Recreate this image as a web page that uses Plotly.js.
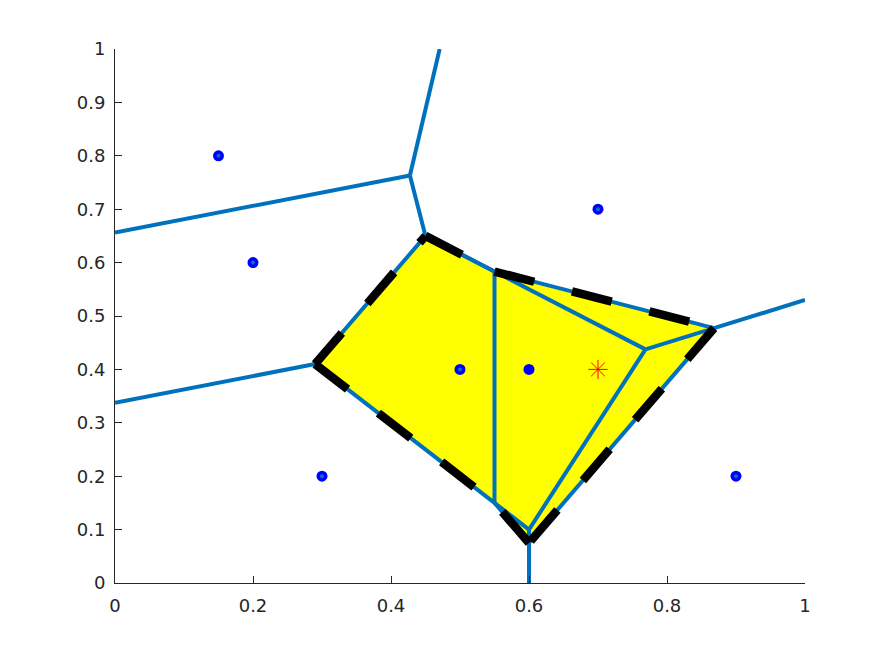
<!DOCTYPE html>
<html>
<head>
<meta charset="utf-8">
<script src="https://cdn.plot.ly/plotly-3.0.1.min.js"></script>
<style>html,body{margin:0;padding:0;background:#fff;}#chart{width:891px;height:656px;}</style>
</head>
<body>
<div id="chart"></div>
<script>
// Sites (blue points)
const siteX = [0.15, 0.2, 0.7, 0.5, 0.6, 0.3, 0.9];
const siteY = [0.8, 0.6, 0.7, 0.4, 0.4, 0.2, 0.2];
// Sites of the second diagram (without the site at 0.6,0.4)
const site2X = [0.15, 0.2, 0.7, 0.5, 0.3, 0.9];
const site2Y = [0.8, 0.6, 0.7, 0.4, 0.2, 0.2];
// Query point (red asterisk)
const queryX = [0.7];
const queryY = [0.4];
// Voronoi vertices, including where rays leave the box
const vertX = [0.4274, 0.45, 0.55, 0.8682, 0.6, 0.55, 0.29, 0.7688, 0.6, 0.4705, 0, 1, 0.6, 0];
const vertY = [0.7631, 0.65, 0.5833, 0.4773, 0.075, 0.15, 0.41, 0.4375, 0.1, 1, 0.65625, 0.53, 0, 0.3375];
// Edges of the 7-site diagram (vertex index pairs)
const edges1 = [[0,9],[0,10],[0,1],[1,6],[6,13],[1,2],[2,5],[2,3],[3,11],[3,4],[5,4],[4,12],[6,5]];
// Edges of the 6-site diagram
const edges2 = [[1,2],[2,7],[7,3],[7,8],[5,8],[8,12]];
// Dashed boundary edges (each drawn from its first vertex)
const dashEdges = [[1,2],[2,3],[3,4],[4,5],[6,5],[6,1]];
// Filled region
const fillPoly = [1,2,3,4,5,6];

const blue = '#0072BD';
const traces = [];
traces.push({
  x: fillPoly.map(i => vertX[i]), y: fillPoly.map(i => vertY[i]),
  type: 'scatter', mode: 'lines', fill: 'toself', fillcolor: '#FFFF00',
  line: {width: 0, color: '#FFFF00'}, hoverinfo: 'skip', showlegend: false
});
function edgeTrace(list) {
  const xs = [], ys = [];
  list.forEach(e => { xs.push(vertX[e[0]], vertX[e[1]], null); ys.push(vertY[e[0]], vertY[e[1]], null); });
  return {x: xs, y: ys, type: 'scatter', mode: 'lines', line: {color: blue, width: 4}, showlegend: false, hoverinfo: 'skip'};
}
traces.push(edgeTrace(edges1));
traces.push({x: siteX, y: siteY, type: 'scatter', mode: 'markers',
  marker: {color: '#0000FF', size: 11, line: {width: 0}}, showlegend: false});
traces.push(edgeTrace(edges2));
traces.push({x: site2X, y: site2Y, type: 'scatter', mode: 'markers',
  marker: {color: blue, size: 4, line: {width: 0}}, showlegend: false});
dashEdges.forEach(e => {
  traces.push({x: [vertX[e[0]], vertX[e[1]]], y: [vertY[e[0]], vertY[e[1]]],
    type: 'scatter', mode: 'lines', line: {color: '#000000', width: 8.5, dash: '41px,39px'},
    showlegend: false, hoverinfo: 'skip'});
});
traces.push({x: queryX, y: queryY, type: 'scatter', mode: 'markers',
  marker: {symbol: 'asterisk-open', size: 16, color: '#FF0000', line: {color: '#FF0000', width: 1}}, showlegend: false});

const axisCommon = {
  showgrid: false, zeroline: false, showline: true, mirror: false,
  linecolor: '#262626', linewidth: 1, ticks: 'inside', ticklen: 7, tickwidth: 1, tickcolor: '#262626',
  tickfont: {family: 'DejaVu Sans', size: 18, color: '#262626'}
};
const layout = {
  width: 891, height: 656,
  margin: {l: 115, r: 86, t: 49, b: 73},
  paper_bgcolor: '#ffffff', plot_bgcolor: '#ffffff',
  showlegend: false,
  xaxis: Object.assign({}, axisCommon, {range: [0, 1], tickvals: [0,0.2,0.4,0.6,0.8,1], ticktext: ['0','0.2','0.4','0.6','0.8','1'], ticklabelstandoff: 6}),
  yaxis: Object.assign({}, axisCommon, {range: [0, 1], tickvals: [0,0.1,0.2,0.3,0.4,0.5,0.6,0.7,0.8,0.9,1], ticktext: ['0','0.1','0.2','0.3','0.4','0.5','0.6','0.7','0.8','0.9','1'], ticklabelstandoff: 5})
};
Plotly.newPlot('chart', traces, layout, {displayModeBar: false, staticPlot: true});
</script>
</body>
</html>
